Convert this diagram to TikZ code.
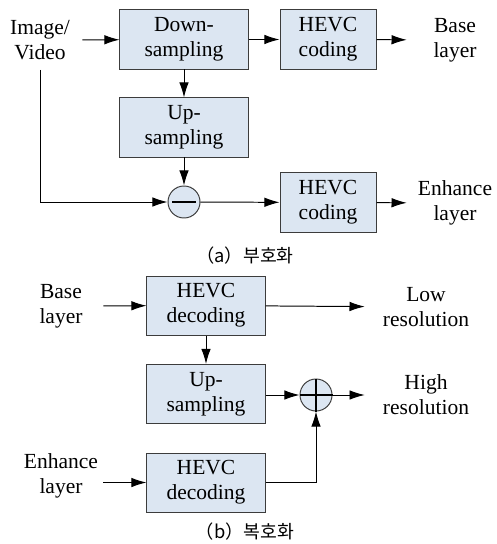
\documentclass[tikz,border=0pt]{standalone}
\usepackage{fontspec}
\setmainfont{Liberation Serif}
\newfontfamily\hangul{Noto Sans CJK KR}
\usepackage{xcolor}
\usetikzlibrary{arrows.meta,calc}
\tikzset{>={Latex[length=3.8mm,width=2.4mm]}}
\definecolor{boxfill}{RGB}{220,230,242}
\definecolor{boxline}{RGB}{60,60,60}
\tikzset{
	txt/.style={font=\rmfamily\fontsize{15.3}{17.7}\selectfont},
	block/.style={txt, draw=boxline, fill=boxfill, line width=0.7pt, align=center, inner sep=0pt, minimum height=1.475cm},
	inlabel/.style={txt, align=center, inner sep=0pt, minimum width=2.1cm},
	outlabel/.style={txt, align=center, inner sep=0pt},
	summer/.style={circle, draw=boxline, fill=boxfill, line width=0.7pt, minimum size=0.8cm, inner sep=0pt},
	subcap/.style={font=\hangul\fontsize{13}{15}\selectfont, inner sep=0pt},
	wire/.style={line width=0.7pt}
}

\begin{document}
\begin{tikzpicture}[x=0.025cm, y=-0.025cm]
	\useasboundingbox (0,0) rectangle (496,544);

	% (a) encoder
	\node[inlabel] (img) at (40,40) {Image/\\Video}; % input
	\node[block, minimum width=3.2cm] (down) at (184,39.5) {Down-\\sampling};
	\node[block, minimum width=2.4cm] (enc1) at (328,39.5) {HEVC\\coding}; % base layer coder
	\node[outlabel, minimum width=2.4cm] (bout) at (455,40) {Base\\layer};
	\node[block, minimum width=3.2cm] (up1) at (184,127.5) {Up-\\sampling};
	\node[summer] (diff) at (184,202) {}; % residual
	\node[block, minimum width=2.4cm] (enc2) at (328,202.5) {HEVC\\coding}; % enhance layer coder
	\node[outlabel, minimum width=2.4cm] (eout) at (455,203) {Enhance\\layer};
	\node[subcap] (capa) at (245,256) {（a）부호화};

	\draw[wire, line width=1.4pt] ($(diff)+(-12,0)$) -- ($(diff)+(12,0)$); % minus sign

	\draw[wire,->] (img) -- (down);
	\draw[wire,->] (down) -- (enc1);
	\draw[wire,->] (enc1) -- (bout);
	\draw[wire,->] (down) -- (up1);
	\draw[wire,->] (up1) -- (diff);
	\draw[wire,->, shorten <=7pt] (img.south) |- (diff);
	\draw[wire,->] (diff) -- (enc2);
	\draw[wire,->] (enc2) -- (eout);

	% (b) decoder
	\node[inlabel] (bin) at (61,306) {Base\\layer};
	\node[block, minimum width=2.95cm] (dec1) at (206,305.5) {HEVC\\decoding}; % base layer decoder
	\node[outlabel, minimum width=3.05cm] (low) at (426,307) {Low\\resolution};
	\node[block, minimum width=2.95cm] (up2) at (206,394) {Up-\\sampling};
	\node[summer] (sum) at (316,395) {}; % reconstruction
	\node[outlabel, minimum width=3.05cm] (high) at (426,395) {High\\resolution};
	\node[inlabel] (ein) at (61,476) {Enhance\\layer};
	\node[block, minimum width=2.95cm] (dec2) at (206,482.5) {HEVC\\decoding}; % enhance layer decoder
	\node[subcap] (capb) at (245,532) {（b）복호화};

	\draw[wire, line width=1.4pt] (sum.west) -- (sum.east) (sum.north) -- (sum.south); % plus sign

	\draw[wire,->] (bin) -- (dec1);
	\draw[wire,->] (dec1) -- (low);
	\draw[wire,->] (dec1) -- (up2);
	\draw[wire,->] (up2.east |- sum) -- (sum);
	\draw[wire,->] (sum) -- (high);
	\draw[wire,->] (ein.east |- dec2) -- (dec2);
	\draw[wire,->] (dec2) -| (sum);
\end{tikzpicture}
\end{document}
